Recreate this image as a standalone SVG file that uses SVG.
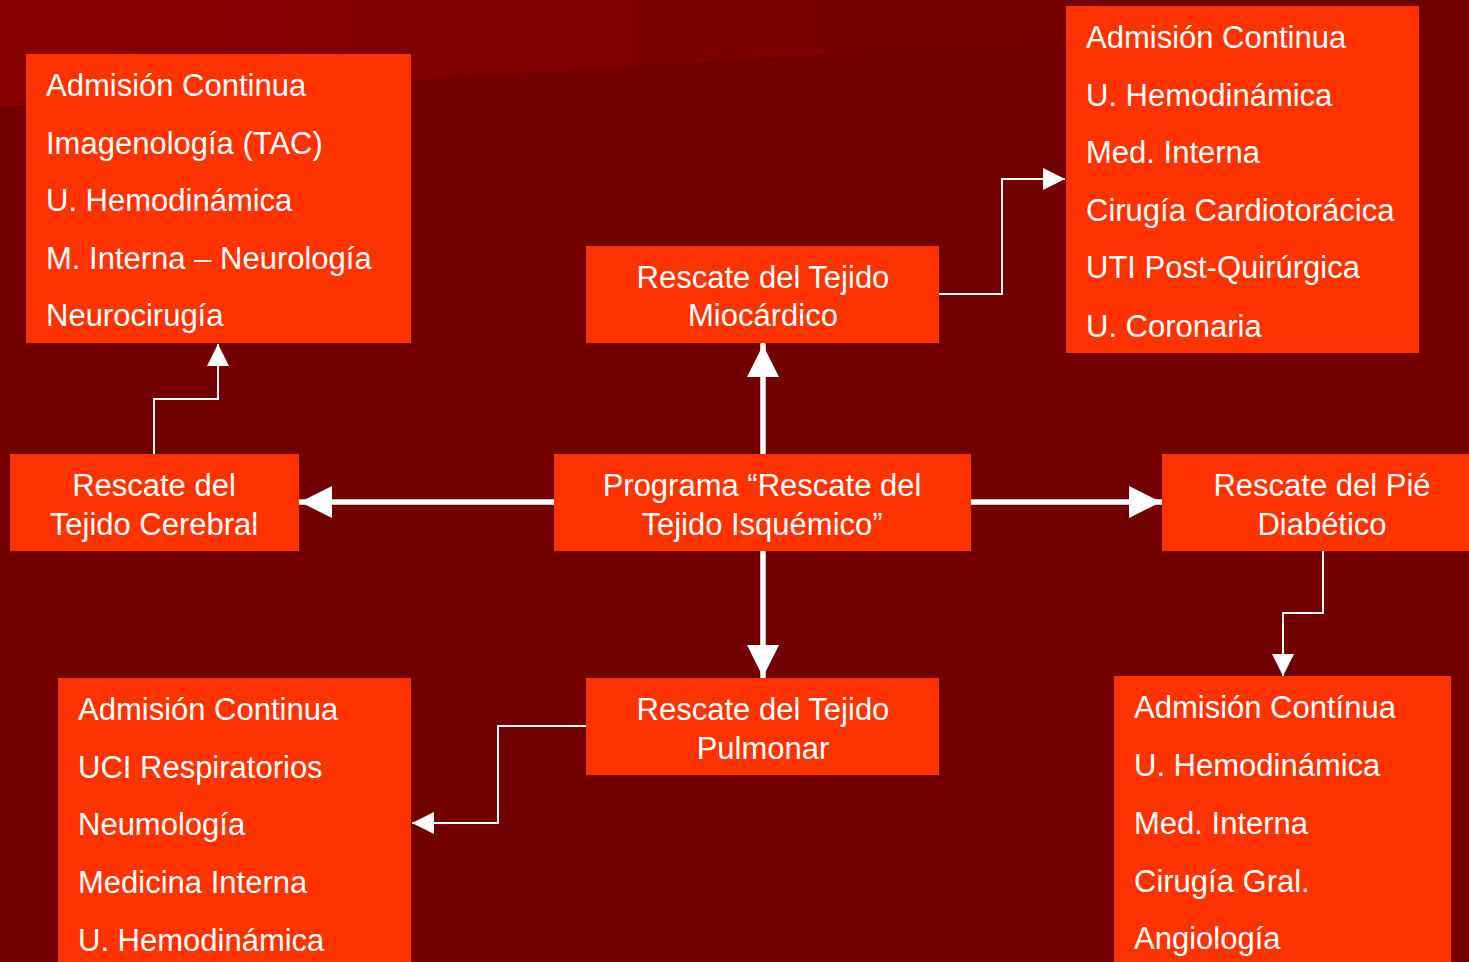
<svg xmlns="http://www.w3.org/2000/svg" width="1469" height="962" viewBox="0 0 1469 962">
<defs>
<linearGradient id="band" x1="0" y1="0" x2="1100" y2="0" gradientUnits="userSpaceOnUse">
<stop offset="0" stop-color="#8a0000"/>
<stop offset="1" stop-color="#740000"/>
</linearGradient>
<marker id="big" markerUnits="userSpaceOnUse" markerWidth="32" markerHeight="32" viewBox="0 0 30 30" refX="30" refY="15" orient="auto">
<path d="M0,0 L30,15 L0,30 Z" fill="#ffffff"/>
</marker>
<marker id="small" markerUnits="userSpaceOnUse" markerWidth="22" markerHeight="22" viewBox="0 0 20 20" refX="20" refY="10" orient="auto">
<path d="M0,0 L20,10 L0,20 Z" fill="#ffffff"/>
</marker>
<style>
.box{fill:#ff3300}
.t{font-family:"Liberation Sans",Arial,sans-serif;font-size:31px;fill:#ffffff}
.c{text-anchor:middle}
.thick{stroke:#ffffff;stroke-width:5.5;fill:none;stroke-linecap:round;marker-end:url(#big)}
.thin{stroke:#ffffff;stroke-width:2;fill:none;marker-end:url(#small)}
</style>
</defs>
<rect width="1469" height="962" fill="#730000"/>
<polygon points="0,0 1100,0 1100,36 0,107" fill="url(#band)"/>

<g id="connectors">
<line class="thick" x1="763" y1="455" x2="763" y2="345"/>
<line class="thick" x1="763" y1="551" x2="763" y2="677"/>
<line class="thick" x1="556" y1="502" x2="300" y2="502"/>
<line class="thick" x1="970" y1="502" x2="1161" y2="502"/>
<polyline class="thin" points="154,455 154,399 218,399 218,344"/>
<polyline class="thin" points="939,294 1002,294 1002,179 1065,179"/>
<polyline class="thin" points="1323,551 1323,613 1283,613 1283,676"/>
<polyline class="thin" points="586,726 498,726 498,823 412,823"/>
</g>

<g id="node-cerebral-list">
<rect class="box" x="26" y="54" width="385" height="289"/>
<text class="t" x="46" y="96">Admisión Continua</text>
<text class="t" x="46" y="154">Imagenología (TAC)</text>
<text class="t" x="46" y="211">U. Hemodinámica</text>
<text class="t" x="46" y="269">M. Interna – Neurología</text>
<text class="t" x="46" y="326">Neurocirugía</text>
</g>

<g id="node-miocardico-list">
<rect class="box" x="1066" y="6" width="353" height="347"/>
<text class="t" x="1086" y="48">Admisión Continua</text>
<text class="t" x="1086" y="106">U. Hemodinámica</text>
<text class="t" x="1086" y="163">Med. Interna</text>
<text class="t" x="1086" y="221">Cirugía Cardiotorácica</text>
<text class="t" x="1086" y="278">UTI Post-Quirúrgica</text>
<text class="t" x="1086" y="337">U. Coronaria</text>
</g>

<g id="node-miocardico">
<rect class="box" x="586" y="246" width="353" height="97"/>
<text class="t c" x="763" y="288">Rescate del Tejido</text>
<text class="t c" x="763" y="326">Miocárdico</text>
</g>

<g id="node-programa">
<rect class="box" x="554" y="454" width="417" height="97"/>
<text class="t c" x="762" y="496">Programa “Rescate del</text>
<text class="t c" x="762" y="535">Tejido Isquémico”</text>
</g>

<g id="node-cerebral">
<rect class="box" x="10" y="454" width="289" height="97"/>
<text class="t c" x="154" y="496">Rescate del</text>
<text class="t c" x="154" y="535">Tejido Cerebral</text>
</g>

<g id="node-pie">
<rect class="box" x="1162" y="454" width="307" height="97"/>
<text class="t c" x="1322" y="496">Rescate del Pié</text>
<text class="t c" x="1322" y="535">Diabético</text>
</g>

<g id="node-pulmonar">
<rect class="box" x="586" y="678" width="353" height="97"/>
<text class="t c" x="763" y="720">Rescate del Tejido</text>
<text class="t c" x="763" y="759">Pulmonar</text>
</g>

<g id="node-pulmonar-list">
<rect class="box" x="58" y="678" width="353" height="284"/>
<text class="t" x="78" y="720">Admisión Continua</text>
<text class="t" x="78" y="778">UCI Respiratorios</text>
<text class="t" x="78" y="835">Neumología</text>
<text class="t" x="78" y="893">Medicina Interna</text>
<text class="t" x="78" y="951">U. Hemodinámica</text>
</g>

<g id="node-pie-list">
<rect class="box" x="1114" y="676" width="337" height="286"/>
<text class="t" x="1134" y="718">Admisión Contínua</text>
<text class="t" x="1134" y="776">U. Hemodinámica</text>
<text class="t" x="1134" y="834">Med. Interna</text>
<text class="t" x="1134" y="892">Cirugía Gral.</text>
<text class="t" x="1134" y="949">Angiología</text>
</g>
</svg>
